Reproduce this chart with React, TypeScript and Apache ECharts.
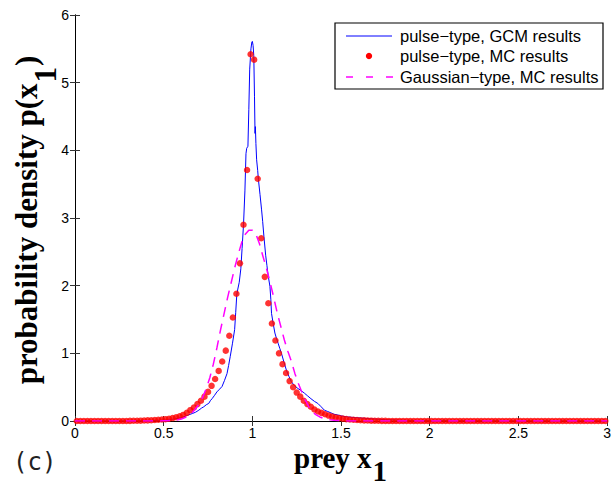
import React, { useEffect, useRef } from "react";
import * as echarts from "echarts";

// Blue line: pulse-type, GCM results (x, y)
const blueX = [0, 0.3, 0.4, 0.5, 0.55, 0.6, 0.63, 0.661, 0.68, 0.698, 0.713, 0.726, 0.74, 0.754, 0.763, 0.773, 0.787, 0.8, 0.815, 0.829, 0.843, 0.857, 0.866, 0.875, 0.888, 0.9, 0.906, 0.912, 0.918, 0.926, 0.935, 0.942, 0.95, 0.958, 0.964, 0.968, 0.975, 0.98, 0.985, 0.992, 0.997, 1.0, 1.004, 1.008, 1.012, 1.015, 1.017, 1.02, 1.024, 1.03, 1.034, 1.043, 1.052, 1.058, 1.065, 1.075, 1.082, 1.089, 1.099, 1.104, 1.108, 1.118, 1.127, 1.136, 1.145, 1.155, 1.164, 1.178, 1.192, 1.206, 1.22, 1.238, 1.257, 1.275, 1.294, 1.312, 1.33, 1.35, 1.369, 1.388, 1.406, 1.425, 1.443, 1.46, 1.48, 1.51, 1.536, 1.58, 1.63, 1.69, 1.75, 1.85, 2.0, 2.2, 2.5, 3.0];
const blueY = [0, 0.001, 0.004, 0.012, 0.025, 0.05, 0.08, 0.11, 0.13, 0.16, 0.19, 0.21, 0.24, 0.26, 0.30, 0.33, 0.38, 0.43, 0.47, 0.51, 0.60, 0.70, 0.82, 0.95, 1.15, 1.35, 1.60, 1.86, 1.95, 2.05, 2.25, 2.55, 2.90, 3.40, 3.95, 4.03, 4.06, 4.6, 5.2, 5.50, 5.60, 5.61, 5.55, 5.40, 4.80, 4.25, 4.35, 4.10, 3.86, 3.70, 3.57, 3.35, 3.12, 2.95, 2.73, 2.45, 2.30, 2.15, 1.99, 1.80, 1.59, 1.43, 1.30, 1.22, 1.15, 1.07, 1.00, 0.87, 0.75, 0.66, 0.58, 0.52, 0.48, 0.45, 0.41, 0.37, 0.33, 0.29, 0.26, 0.21, 0.16, 0.14, 0.12, 0.10, 0.09, 0.07, 0.06, 0.05, 0.04, 0.03, 0.02, 0.01, 0.005, 0.003, 0.001, 0];

// Red dots: pulse-type, MC results, sampled at x = 0.01, 0.03, ..., 2.99
const redY = [
  0, 0, 0, 0, 0, 0, 0, 0, 0, 0, 0, 0, 0, 0, 0,
  0.002, 0.003, 0.004, 0.005, 0.007, 0.009, 0.011, 0.014, 0.018, 0.022,
  0.027, 0.034, 0.043, 0.055, 0.07, 0.09, 0.12, 0.16, 0.20, 0.25,
  0.30, 0.36, 0.43, 0.52, 0.62, 0.74, 0.88, 1.04, 1.26, 1.53,
  1.88, 2.33, 2.90, 3.71, 5.42, 5.34, 3.58, 2.70, 2.13, 1.74,
  1.44, 1.19, 1.00, 0.84, 0.71, 0.59, 0.50, 0.42, 0.36, 0.30,
  0.25, 0.21, 0.17, 0.14, 0.12, 0.10, 0.08, 0.065, 0.053, 0.043,
  0.035, 0.028, 0.023, 0.018, 0.014, 0.011, 0.009, 0.007, 0.005, 0.004,
  0.003, 0.002, 0.002,
  0, 0, 0, 0, 0, 0, 0, 0, 0, 0, 0, 0, 0, 0, 0, 0, 0, 0, 0, 0, 0, 0, 0, 0, 0, 0, 0, 0, 0, 0, 0,
  0, 0, 0, 0, 0, 0, 0, 0, 0, 0, 0, 0, 0, 0, 0, 0, 0, 0, 0, 0, 0, 0, 0, 0, 0, 0, 0, 0, 0, 0, 0
];

// Magenta dashed: Gaussian-type, MC results, sampled at x = 0, 0.02, ..., 3.00
const magentaY = [
  0, 0, 0, 0, 0, 0, 0, 0, 0, 0, 0, 0, 0, 0, 0, 0, 0, 0, 0, 0, 0, 0, 0, 0, 0,
  0.002, 0.004, 0.007, 0.011, 0.018, 0.03, 0.05, 0.08, 0.12, 0.18,
  0.25, 0.35, 0.48, 0.64, 0.84, 1.08, 1.34, 1.58, 1.82, 2.04,
  2.26, 2.46, 2.64, 2.76, 2.82, 2.82, 2.76, 2.62, 2.43, 2.25,
  2.05, 1.83, 1.60, 1.40, 1.20, 1.03, 0.88, 0.70, 0.55, 0.42,
  0.30, 0.20, 0.13, 0.09, 0.06, 0.04, 0.03, 0.02, 0.012, 0.008,
  0.005, 0.003,
  0, 0, 0, 0, 0, 0, 0, 0, 0, 0, 0, 0, 0, 0, 0, 0, 0, 0, 0, 0, 0, 0, 0, 0, 0, 0, 0, 0, 0, 0, 0, 0, 0, 0, 0, 0, 0,
  0, 0, 0, 0, 0, 0, 0, 0, 0, 0, 0, 0, 0, 0, 0, 0, 0, 0, 0, 0, 0, 0, 0, 0, 0, 0, 0, 0, 0, 0, 0, 0, 0, 0, 0, 0, 0
];

const redStart = 0.01;
const redStep = 0.02;
const magStart = 0;
const magStep = 0.02;

const seriesNames = ["pulse\u2212type, GCM results", "pulse\u2212type, MC results", "Gaussian\u2212type, MC results"];
const xAxisTitle = "prey x";
const yAxisTitle = "probability density p(x";
const subscript = "1";
const panelLabel = "(c)";

function textWidth(text: string, font: string): number {
  const ctx = document.createElement("canvas").getContext("2d");
  if (!ctx) return text.length * 14;
  ctx.font = font;
  return ctx.measureText(text).width;
}

export default function App() {
  const ref = useRef<HTMLDivElement>(null);

  useEffect(() => {
    document.body.style.margin = "0";
    if (!ref.current) return;
    const chart = echarts.init(ref.current, null, { renderer: "svg" });

    const blueData = blueX.map((x, i) => [x, blueY[i]]);
    const redData = redY.map((y, i) => [+(redStart + i * redStep).toFixed(2), y]);
    const magData = magentaY.map((y, i) => [+(magStart + i * magStep).toFixed(2), y]);

    const titleFont = "bold 29px 'Liberation Serif'";
    const yTitleFont = "bold 31px 'Liberation Serif'";
    const wX = textWidth(xAxisTitle, titleFont);
    const wSub = textWidth(subscript, yTitleFont);
    const wY = textWidth(yAxisTitle, yTitleFont);
    const wParen = textWidth(")", yTitleFont);
    const wYTotal = wY + wSub + wParen;
    const xStart = 294;
    const yLocalStart = -wYTotal / 2;

    const legendFont = "16.5px 'Liberation Sans'";
    const tickFont = { fontFamily: "Liberation Sans", fontSize: 14, color: "#000" };

    const axisCommon = {
      axisLine: { show: true, lineStyle: { color: "#000", width: 1 } },
      axisTick: { show: true, inside: true, length: 5, lineStyle: { color: "#333" } },
      splitLine: { show: false },
    };

    const txt = (text: string, x: number, y: number, font: string, fill = "#000") => ({
      text, x, y, font, fill, textAlign: "left", textVerticalAlign: "middle", verticalAlign: "middle",
    });

    chart.setOption({
      animation: false,
      backgroundColor: "#fff",
      grid: { left: 75, right: 3, top: 15, bottom: 66, containLabel: false },
      xAxis: [
        {
          type: "value", min: 0, max: 3, interval: 0.5, position: "bottom",
          ...axisCommon,
          axisLabel: { ...tickFont, margin: 5 },
        },
        {
          type: "value", min: 0, max: 3, interval: 0.5, position: "top",
          ...axisCommon,
          axisLabel: { show: false },
        },
      ],
      yAxis: [
        {
          type: "value", min: 0, max: 6, interval: 1, position: "left",
          ...axisCommon,
          axisLabel: { ...tickFont, margin: 6 },
        },
        {
          type: "value", min: 0, max: 6, interval: 1, position: "right",
          ...axisCommon,
          axisLabel: { show: false },
        },
      ],
      series: [
        {
          name: seriesNames[0], type: "line", data: blueData, showSymbol: false, symbol: "none",
          lineStyle: { color: "#0000ff", width: 1 }, z: 2,
        },
        {
          name: seriesNames[1], type: "scatter", data: redData, symbol: "circle", symbolSize: 6.5,
          itemStyle: { color: "#ff0000" }, z: 3,
        },
        {
          name: seriesNames[2], type: "line", data: magData, showSymbol: false, symbol: "none",
          lineStyle: { color: "#ff00ff", width: 1.5, type: [10, 7] }, z: 4,
        },
      ],
      graphic: [
        // legend box
        { type: "rect", z: 100, shape: { x: 335, y: 23, width: 268, height: 66 }, style: { fill: "#fff", stroke: "#000", lineWidth: 1.2 } },
        { type: "line", z: 101, shape: { x1: 346, y1: 36, x2: 392, y2: 36 }, style: { stroke: "#0000ff", lineWidth: 1 } },
        { type: "circle", z: 101, shape: { cx: 369, cy: 56, r: 3.2 }, style: { fill: "#ff0000" } },
        { type: "line", z: 101, shape: { x1: 346, y1: 77, x2: 353, y2: 77 }, style: { stroke: "#ff00ff", lineWidth: 1.5 } },
        { type: "line", z: 101, shape: { x1: 366, y1: 77, x2: 373, y2: 77 }, style: { stroke: "#ff00ff", lineWidth: 1.5 } },
        { type: "line", z: 101, shape: { x1: 386, y1: 77, x2: 393, y2: 77 }, style: { stroke: "#ff00ff", lineWidth: 1.5 } },
        { type: "text", z: 101, style: txt(seriesNames[0], 400, 36, legendFont) },
        { type: "text", z: 101, style: txt(seriesNames[1], 400, 56, legendFont) },
        { type: "text", z: 101, style: txt(seriesNames[2], 400, 77, legendFont) },
        // x axis title
        { type: "text", z: 101, style: txt(xAxisTitle, xStart, 458, titleFont) },
        { type: "text", z: 101, style: txt(subscript, xStart + wX + 1, 471, titleFont) },
        // y axis title (rotated)
        {
          type: "group", x: 26, y: 221, rotation: Math.PI / 2, z: 101,
          children: [
            { type: "text", style: txt(yAxisTitle, yLocalStart, 0, yTitleFont) },
            { type: "text", style: txt(subscript, yLocalStart + wY + 1, 19, yTitleFont) },
            { type: "text", style: txt(")", yLocalStart + wY + wSub + 2, 0, yTitleFont) },
          ],
        },
        // panel label
        { type: "text", z: 101, style: txt(panelLabel, 13, 462, "24px 'DejaVu Sans Mono'", "#222") },
      ],
    });

    return () => chart.dispose();
  }, []);

  return <div ref={ref} style={{ width: 614, height: 487 }} />;
}
